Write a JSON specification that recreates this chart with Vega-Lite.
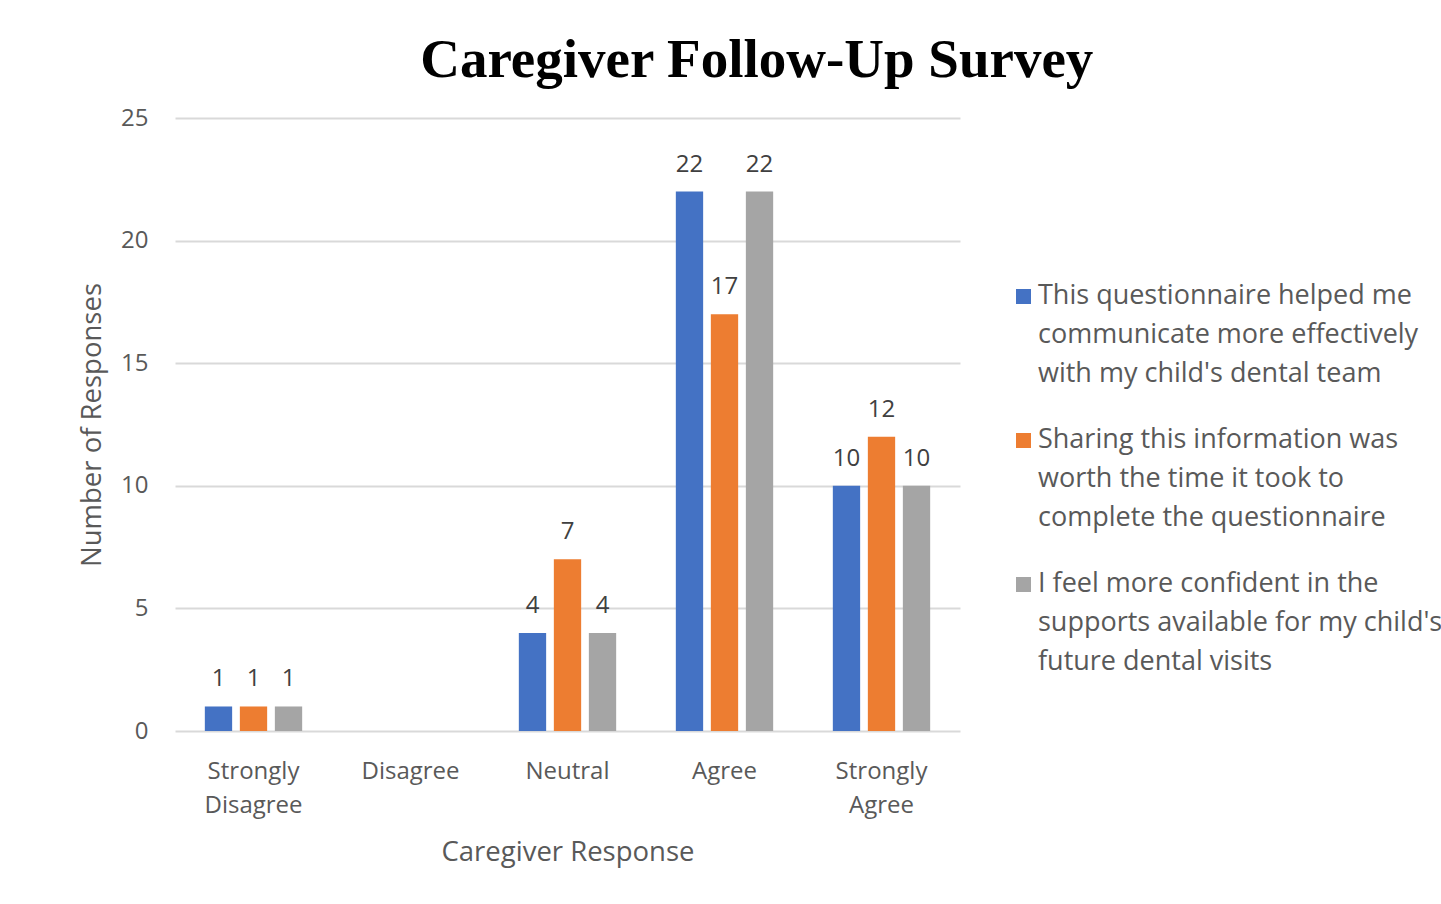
{
  "$schema": "https://vega.github.io/schema/vega-lite/v6.json",
  "width": 785,
  "height": 613,
  "autosize": "none",
  "padding": {"left": 175, "top": 118, "right": 481, "bottom": 173},
  "background": "white",
  "title": {
    "text": "Caregiver Follow-Up Survey",
    "font": "Liberation Serif",
    "fontSize": 55,
    "fontWeight": "bold",
    "color": "#000000",
    "anchor": "middle",
    "frame": "bounds",
    "dx": -4,
    "offset": 17
  },
  "data": {
    "values": [
      {"response": "Strongly Disagree", "series": "This questionnaire helped me communicate more effectively with my child's dental team", "value": 1},
      {"response": "Strongly Disagree", "series": "Sharing this information was worth the time it took to complete the questionnaire", "value": 1},
      {"response": "Strongly Disagree", "series": "I feel more confident in the supports available for my child's future dental visits", "value": 1},
      {"response": "Neutral", "series": "This questionnaire helped me communicate more effectively with my child's dental team", "value": 4},
      {"response": "Neutral", "series": "Sharing this information was worth the time it took to complete the questionnaire", "value": 7},
      {"response": "Neutral", "series": "I feel more confident in the supports available for my child's future dental visits", "value": 4},
      {"response": "Agree", "series": "This questionnaire helped me communicate more effectively with my child's dental team", "value": 22},
      {"response": "Agree", "series": "Sharing this information was worth the time it took to complete the questionnaire", "value": 17},
      {"response": "Agree", "series": "I feel more confident in the supports available for my child's future dental visits", "value": 22},
      {"response": "Strongly Agree", "series": "This questionnaire helped me communicate more effectively with my child's dental team", "value": 10},
      {"response": "Strongly Agree", "series": "Sharing this information was worth the time it took to complete the questionnaire", "value": 12},
      {"response": "Strongly Agree", "series": "I feel more confident in the supports available for my child's future dental visits", "value": 10}
    ]
  },
  "encoding": {
    "x": {
      "field": "response",
      "type": "nominal",
      "scale": {
        "domain": ["Strongly Disagree", "Disagree", "Neutral", "Agree", "Strongly Agree"],
        "paddingInner": 0.38,
        "paddingOuter": 0.19
      },
      "axis": {
        "title": "Caregiver Response",
        "labelAngle": 0,
        "labelExpr": "datum.label == 'Strongly Disagree' ? ['Strongly', 'Disagree'] : datum.label == 'Strongly Agree' ? ['Strongly', 'Agree'] : datum.label",
        "labelLineHeight": 34,
        "labelPadding": 42,
        "titlePadding": 21,
        "domain": false,
        "ticks": false,
        "grid": false
      }
    },
    "xOffset": {
      "field": "series",
      "type": "nominal",
      "scale": {
        "domain": [
          "This questionnaire helped me communicate more effectively with my child's dental team",
          "Sharing this information was worth the time it took to complete the questionnaire",
          "I feel more confident in the supports available for my child's future dental visits"
        ],
        "paddingInner": 0.22,
        "paddingOuter": 0
      }
    },
    "y": {
      "field": "value",
      "type": "quantitative",
      "scale": {"domain": [0, 25]},
      "axis": {
        "title": "Number of Responses",
        "values": [0, 5, 10, 15, 20, 25],
        "labelPadding": 27,
        "labelOffset": 14,
        "titlePadding": 14,
        "domain": false,
        "ticks": false,
        "grid": true,
        "gridColor": "#d9d9d9",
        "gridWidth": 2
      }
    }
  },
  "layer": [
    {
      "mark": {"type": "bar"},
      "encoding": {
        "color": {
          "field": "series",
          "type": "nominal",
          "scale": {
            "domain": [
              "This questionnaire helped me communicate more effectively with my child's dental team",
              "Sharing this information was worth the time it took to complete the questionnaire",
              "I feel more confident in the supports available for my child's future dental visits"
            ],
            "range": ["#4472C4", "#ED7D31", "#A5A5A5"]
          },
          "legend": {
            "title": null,
            "orient": "none",
            "legendX": 835,
            "legendY": 165,
            "symbolType": "square",
            "symbolSize": 225,
            "symbolStrokeWidth": 0,
            "labelOffset": 1,
            "labelFontSize": 27,
            "labelColor": "#595959",
            "labelFont": "Open Sans",
            "labelLimit": 800,
            "labelBaseline": "top",
            "rowPadding": 38,
            "labelExpr": "indexof(datum.label, 'This') == 0 ? ['This questionnaire helped me', 'communicate more effectively', \"with my child's dental team\"] : indexof(datum.label, 'Sharing') == 0 ? ['Sharing this information was', 'worth the time it took to', 'complete the questionnaire'] : ['I feel more confident in the', \"supports available for my child's\", 'future dental visits']"
          }
        }
      }
    },
    {
      "mark": {"type": "text", "baseline": "alphabetic", "dy": -20, "fontSize": 24, "color": "#404040", "font": "Open Sans"},
      "encoding": {
        "text": {"field": "value", "type": "quantitative"}
      }
    }
  ],
  "config": {
    "view": {"stroke": null},
    "font": "Open Sans",
    "style": {"guide-label": {"lineHeight": 39, "dy": -14}},
    "axis": {
      "labelFont": "Open Sans",
      "labelFontSize": 24,
      "labelColor": "#595959",
      "titleFont": "Open Sans",
      "titleFontSize": 27.5,
      "titleFontWeight": "normal",
      "titleColor": "#595959"
    }
  }
}
